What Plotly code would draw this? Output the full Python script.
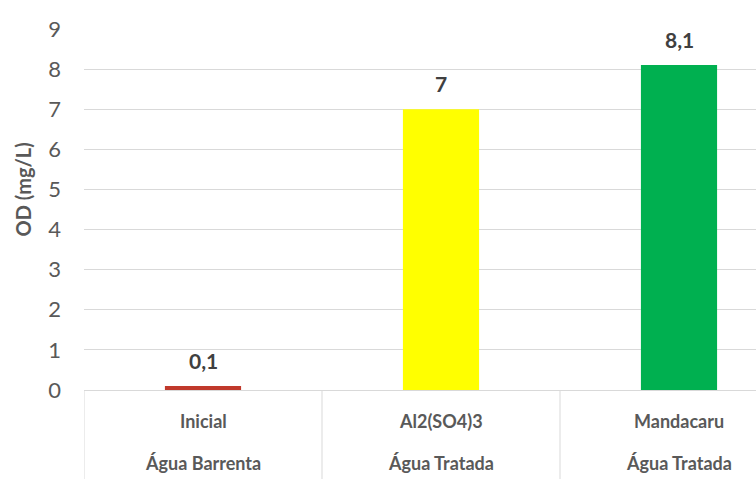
import plotly.graph_objects as go

categorias = ["Inicial", "Al2(SO4)3", "Mandacaru"]
grupos = ["Água Barrenta", "Água Tratada", "Água Tratada"]
valores = [0.1, 7, 8.1]
rotulos = ["0,1", "7", "8,1"]
cores = ["#c0392b", "#ffff00", "#00b050"]
y_ticks = list(range(0, 10))

FONT = "Lato, Open Sans, sans-serif"
GREY = "#595959"

x_pos = list(range(len(categorias)))

fig = go.Figure()
fig.add_trace(go.Bar(
    x=x_pos, y=valores, marker_color=cores, marker_line_width=0,
    width=0.32, showlegend=False, hoverinfo="skip",
))

# data labels
for xi, v, t in zip(x_pos, valores, rotulos):
    fig.add_annotation(x=xi, y=v, xref="x", yref="y", yanchor="bottom",
                       yshift=11, text=t, showarrow=False,
                       font=dict(family=FONT, size=21, color="#404040", weight="bold"))

# category labels (two levels)
for xi, (c, g) in enumerate(zip(categorias, grupos)):
    fig.add_annotation(x=xi, xref="x", y=0, yref="paper", yanchor="middle",
                       yshift=-31, text=c, showarrow=False,
                       font=dict(family=FONT, size=18, color=GREY, weight="bold"))
    fig.add_annotation(x=xi, xref="x", y=0, yref="paper", yanchor="middle",
                       yshift=-73, text=g, showarrow=False,
                       font=dict(family=FONT, size=18, color=GREY, weight="bold"))

# category box separators
for xi in range(len(categorias)):
    fig.add_shape(type="line", xref="x", yref="paper", x0=xi - 0.5, x1=xi - 0.5,
                  y0=0, y1=-0.3, line=dict(color="#d9d9d9", width=1))

# y axis title
fig.add_annotation(x=0, xref="paper", xanchor="center", xshift=-62,
                   y=0.5, yref="paper", yanchor="middle", yshift=20,
                   text="OD (mg/L)", textangle=-90, showarrow=False,
                   font=dict(family=FONT, size=20, color=GREY, weight="bold"))

fig.update_layout(
    width=756, height=479,
    margin=dict(l=84, r=0, t=29, b=89),
    paper_bgcolor="white", plot_bgcolor="white",
    xaxis=dict(range=[-0.5, -0.5 + 672 / 238], showticklabels=False,
               showgrid=False, zeroline=False, showline=True,
               linecolor="#d9d9d9", linewidth=1, ticks=""),
    yaxis=dict(range=[0, 9], tickvals=y_ticks, showgrid=True, gridcolor="#d9d9d9",
               gridwidth=1, zeroline=False, showline=False, ticks="",
               ticklabelstandoff=22,
               tickfont=dict(family=FONT, size=22, color=GREY)),
)

fig.write_html("out.html")
